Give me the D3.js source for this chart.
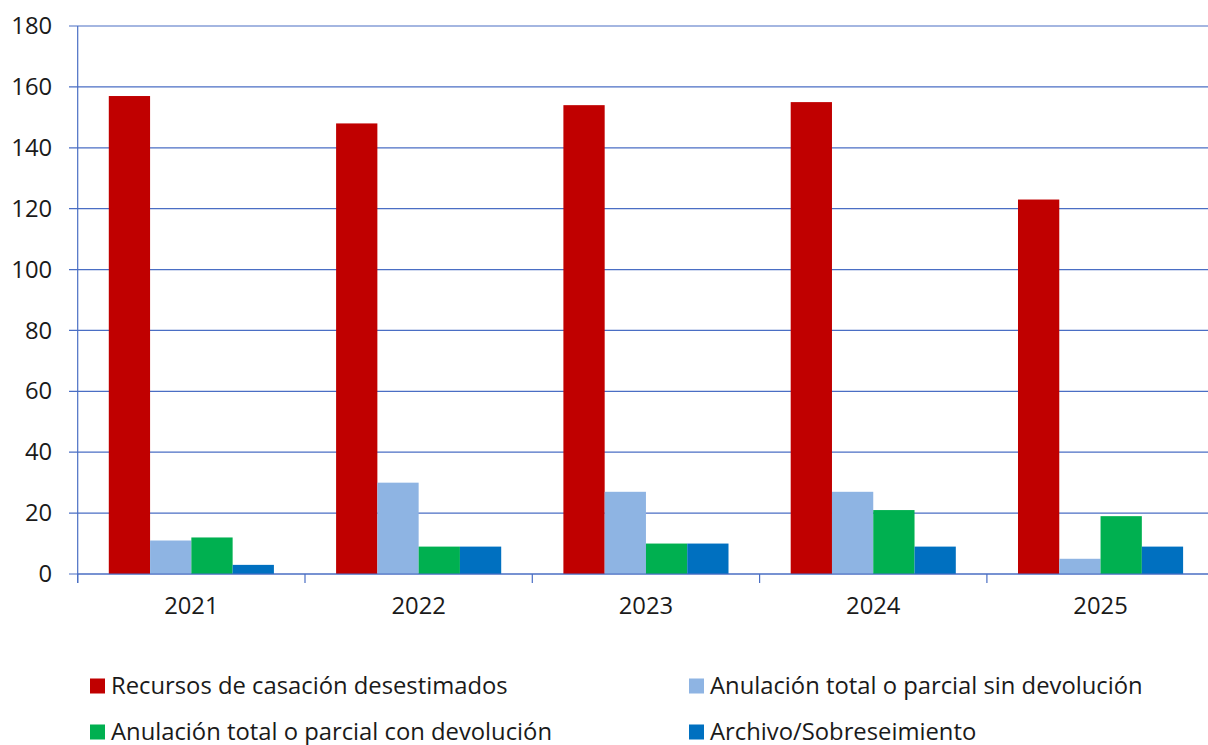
<!DOCTYPE html>
<html><head><meta charset="utf-8">
<script src="https://cdn.jsdelivr.net/npm/d3@7"></script>
<style>body{margin:0;background:#fff}svg{display:block;font-family:"Open Sans",sans-serif}</style>
</head><body><svg id="c" width="1208" height="745"></svg>
<script>
const categories = ["2021","2022","2023","2024","2025"];
const seriesNames = ["Recursos de casación desestimados","Anulación total o parcial sin devolución","Anulación total o parcial con devolución","Archivo/Sobreseimiento"];
const recursos = [157,148,154,155,123];
const sinDevolucion = [11,30,27,27,5];
const conDevolucion = [12,9,10,21,19];
const archivo = [3,9,10,9,9];
const yTicks = [0,20,40,60,80,100,120,140,160,180];
const colors = ["#C00000","#8EB4E3","#00B050","#0070C0"];
const seriesValues = [recursos, sinDevolucion, conDevolucion, archivo];

const svg = d3.select("#c");
const L = 77.7, R = 1214.2, T = 26, B = 574;
const grid = "#4A6EC4";
const FS = 23.8;
const x = d3.scaleBand().domain(categories).range([L,R]).paddingInner(0.2736).paddingOuter(0.1368);
const xs = d3.scaleBand().domain(d3.range(seriesNames.length)).range([0,x.bandwidth()]);
const y = d3.scaleLinear().domain([0,180]).range([B,T]);

// gridlines
svg.append("g").selectAll("line").data(yTicks).join("line")
  .attr("x1",69).attr("x2",R).attr("y1",d=>y(d)).attr("y2",d=>y(d))
  .attr("stroke",grid).attr("stroke-width",1.2);

// bars
const data = [];
categories.forEach((c,i)=>seriesValues.forEach((s,j)=>data.push({c,j,v:s[i]})));
svg.append("g").selectAll("rect").data(data).join("rect")
  .attr("x",d=>x(d.c)+xs(d.j)).attr("width",xs.bandwidth())
  .attr("y",d=>y(d.v)).attr("height",d=>B-y(d.v))
  .attr("fill",d=>colors[d.j]);

// y axis
const ya = svg.append("g").attr("transform",`translate(${L},0)`)
  .call(d3.axisLeft(y).tickValues(yTicks).tickSize(0).tickPadding(25.5));
ya.select(".domain").remove();
ya.selectAll("text").attr("font-size",FS).attr("fill","#1a1a1a").attr("font-family","Open Sans");
svg.append("line").attr("x1",L).attr("x2",L).attr("y1",T).attr("y2",583).attr("stroke",grid).attr("stroke-width",1.2);

// x axis
const xa = svg.append("g").attr("transform",`translate(0,${B})`)
  .call(d3.axisBottom(x).tickSize(0).tickPadding(23));
xa.select(".domain").remove();
xa.selectAll("text").attr("font-size",FS).attr("fill","#1a1a1a").attr("font-family","Open Sans");
svg.append("line").attr("x1",L).attr("x2",R).attr("y1",B).attr("y2",B).attr("stroke",grid).attr("stroke-width",1.2);
svg.append("g").selectAll("line").data(d3.range(categories.length+1)).join("line")
  .attr("x1",i=>L+i*x.step()).attr("x2",i=>L+i*x.step()).attr("y1",B).attr("y2",583)
  .attr("stroke",grid).attr("stroke-width",1.2);

// legend
const legPos = [[90,686],[689,686],[90,732],[689,732]];
const lg = svg.append("g").selectAll("g").data(seriesNames).join("g")
  .attr("transform",(d,i)=>`translate(${legPos[i][0]},${legPos[i][1]})`);
lg.append("rect").attr("x",0).attr("y",-7.5).attr("width",15).attr("height",15).attr("fill",(d,i)=>colors[i]);
lg.append("text").attr("x",21).attr("dy","0.35em").attr("font-size",FS).attr("fill","#1a1a1a").text(d=>d);
</script></body></html>
